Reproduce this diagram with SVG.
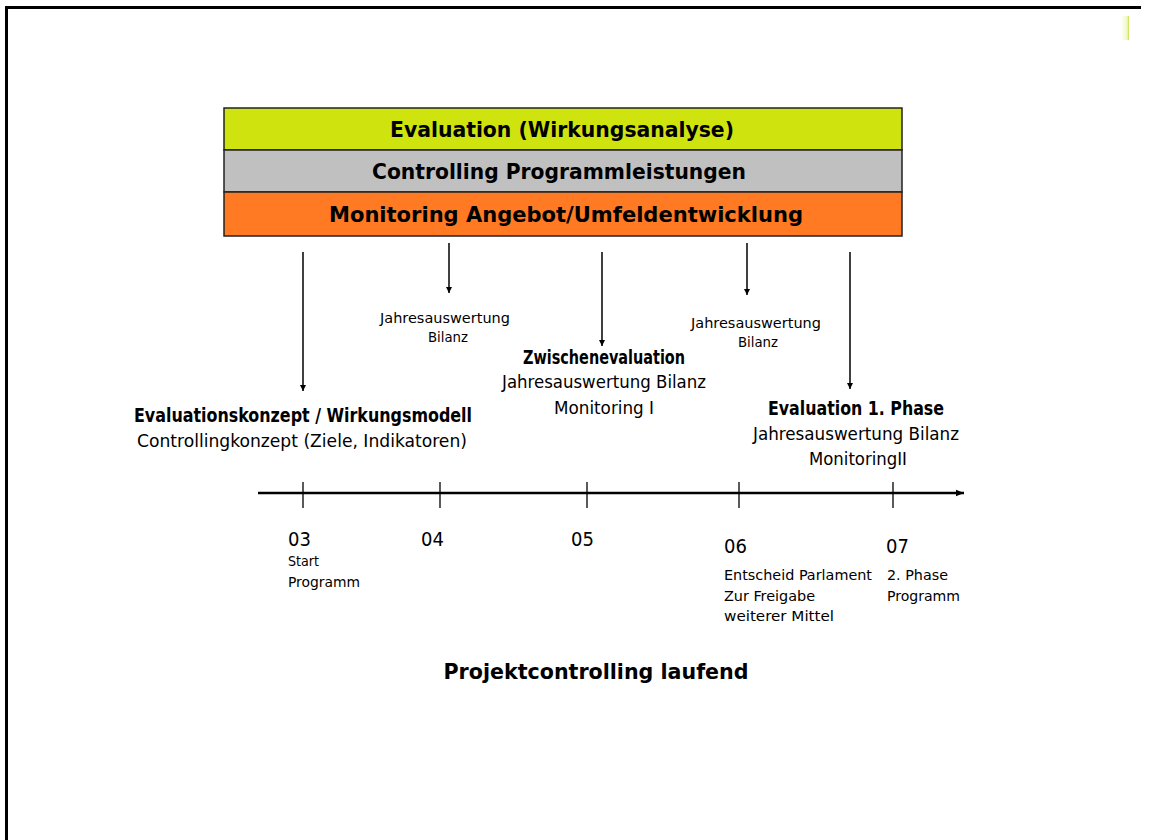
<svg xmlns="http://www.w3.org/2000/svg" width="1151" height="840" viewBox="0 0 1151 840">
<defs>
<marker id="ah" viewBox="0 0 10 10" refX="10" refY="5" markerWidth="6" markerHeight="7" markerUnits="userSpaceOnUse" orient="auto"><path d="M0,0 L10,5 L0,10 z" fill="#000"/></marker>
<marker id="ah2" viewBox="0 0 10 10" refX="10" refY="5" markerWidth="9" markerHeight="8" markerUnits="userSpaceOnUse" orient="auto"><path d="M0,1 L10,5 L0,9 z" fill="#000"/></marker>
<linearGradient id="gm" x1="0" x2="1" y1="0" y2="0"><stop offset="0" stop-color="#f6fae0" stop-opacity="0"/><stop offset="0.8" stop-color="#eef6c0"/><stop offset="1" stop-color="#c8e040"/></linearGradient>
</defs>
<style>
text{font-family:"DejaVu Sans Condensed","DejaVu Sans",sans-serif;fill:#000}
.band{font-size:22px;font-weight:bold;text-anchor:middle}
.b{font-weight:bold;font-size:19px;text-anchor:middle}
.n{font-size:17px;text-anchor:middle}
.s{font-size:14px;text-anchor:middle}
.yr{font-size:20px}
.sm{font-size:14px}
.arr{stroke:#000;stroke-width:1.5;fill:none;marker-end:url(#ah)}
</style>
<rect x="0" y="0" width="1151" height="840" fill="#fff"/>
<path d="M6.5,840 V7.5 H1141" stroke="#000" stroke-width="3" fill="none"/>
<rect x="1120" y="16" width="9" height="24" fill="url(#gm)"/>

<g id="band-evaluation">
<rect x="224" y="108" width="678" height="42" fill="#cfe40f" stroke="#222" stroke-width="1.5"/>
<text class="band" x="562" y="137" textLength="344" lengthAdjust="spacingAndGlyphs">Evaluation (Wirkungsanalyse)</text>
</g>
<g id="band-controlling">
<rect x="224" y="150" width="678" height="42" fill="#c0c0c0" stroke="#222" stroke-width="1.5"/>
<text class="band" x="559" y="179" textLength="374" lengthAdjust="spacingAndGlyphs">Controlling Programmleistungen</text>
</g>
<g id="band-monitoring">
<rect x="224" y="192" width="678" height="44" fill="#ff7a22" stroke="#222" stroke-width="1.5"/>
<text class="band" x="566" y="222" textLength="474" lengthAdjust="spacingAndGlyphs">Monitoring Angebot/Umfeldentwicklung</text>
</g>

<g id="connectors">
<line class="arr" x1="303" y1="252" x2="303" y2="391"/>
<line class="arr" x1="449" y1="243" x2="449" y2="293"/>
<line class="arr" x1="602" y1="252" x2="602" y2="346"/>
<line class="arr" x1="747" y1="243" x2="747" y2="295"/>
<line class="arr" x1="850" y1="252" x2="850" y2="389"/>
</g>

<g id="node-konzept">
<text class="b" x="303" y="422" textLength="338" lengthAdjust="spacingAndGlyphs">Evaluationskonzept / Wirkungsmodell</text>
<text class="n" x="302" y="447" textLength="330" lengthAdjust="spacingAndGlyphs">Controllingkonzept (Ziele, Indikatoren)</text>
</g>
<g id="node-jahr04">
<text class="s" x="445" y="323" textLength="130" lengthAdjust="spacingAndGlyphs">Jahresauswertung</text>
<text class="s" x="448" y="342" textLength="40" lengthAdjust="spacingAndGlyphs">Bilanz</text>
</g>
<g id="node-zwischen">
<text class="b" x="604" y="364" textLength="162" lengthAdjust="spacingAndGlyphs">Zwischenevaluation</text>
<text class="n" x="604" y="388" textLength="204" lengthAdjust="spacingAndGlyphs">Jahresauswertung Bilanz</text>
<text class="n" x="604" y="414" textLength="100" lengthAdjust="spacingAndGlyphs">Monitoring I</text>
</g>
<g id="node-jahr06">
<text class="s" x="756" y="328" textLength="130" lengthAdjust="spacingAndGlyphs">Jahresauswertung</text>
<text class="s" x="758" y="347" textLength="40" lengthAdjust="spacingAndGlyphs">Bilanz</text>
</g>
<g id="node-eval1">
<text class="b" x="856" y="415" textLength="176" lengthAdjust="spacingAndGlyphs">Evaluation 1. Phase</text>
<text class="n" x="856" y="440" textLength="206" lengthAdjust="spacingAndGlyphs">Jahresauswertung Bilanz</text>
<text class="n" x="858" y="465" textLength="98" lengthAdjust="spacingAndGlyphs">MonitoringII</text>
</g>

<g id="timeline">
<line x1="258" y1="493" x2="964" y2="493" stroke="#000" stroke-width="2.5" marker-end="url(#ah2)"/>
<g stroke="#000" stroke-width="1.3">
<line x1="303" y1="482" x2="303" y2="508"/>
<line x1="440" y1="482" x2="440" y2="508"/>
<line x1="587" y1="482" x2="587" y2="508"/>
<line x1="739" y1="482" x2="739" y2="508"/>
<line x1="893" y1="482" x2="893" y2="508"/>
</g>
</g>

<g id="tick-03">
<text class="yr" x="288" y="546">03</text>
<text class="sm" x="288" y="566" textLength="31" lengthAdjust="spacingAndGlyphs">Start</text>
<text class="sm" x="288" y="587" textLength="72" lengthAdjust="spacingAndGlyphs">Programm</text>
</g>
<g id="tick-04"><text class="yr" x="421" y="546">04</text></g>
<g id="tick-05"><text class="yr" x="571" y="546">05</text></g>
<g id="tick-06">
<text class="yr" x="724" y="553">06</text>
<text class="sm" x="724" y="580" textLength="148" lengthAdjust="spacingAndGlyphs">Entscheid Parlament</text>
<text class="sm" x="724" y="601" textLength="91" lengthAdjust="spacingAndGlyphs">Zur Freigabe</text>
<text class="sm" x="724" y="621" textLength="110" lengthAdjust="spacingAndGlyphs">weiterer Mittel</text>
</g>
<g id="tick-07">
<text class="yr" x="886" y="553">07</text>
<text class="sm" x="887" y="580" textLength="61" lengthAdjust="spacingAndGlyphs">2. Phase</text>
<text class="sm" x="887" y="601" textLength="73" lengthAdjust="spacingAndGlyphs">Programm</text>
</g>

<g id="footer">
<text class="band" x="596" y="679" textLength="305" lengthAdjust="spacingAndGlyphs">Projektcontrolling laufend</text>
</g>
</svg>
